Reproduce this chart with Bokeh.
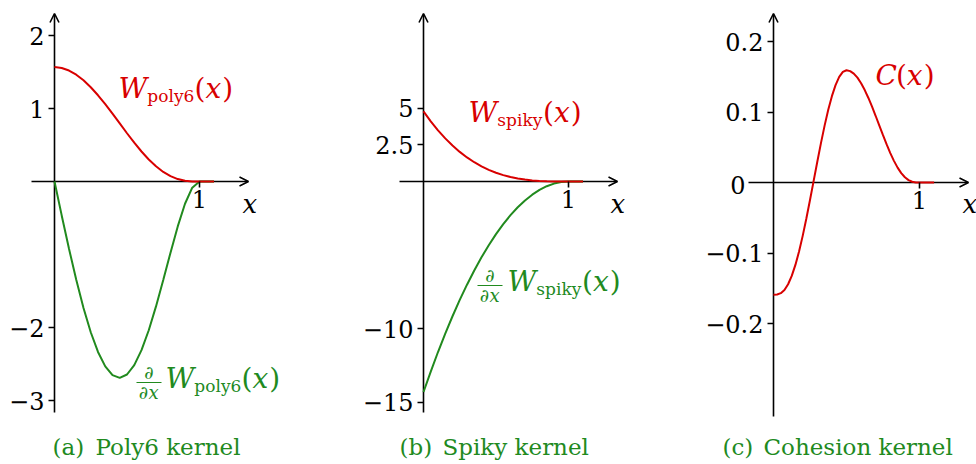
from bokeh.plotting import figure
from bokeh.layouts import row
from bokeh.models import Arrow, OpenHead, Label, Range1d, CustomJSTickFormatter
from bokeh.embed import file_html
from bokeh.resources import INLINE

# ---- data (distance in units of the smoothing length h) ----
x_h = [0.0, 0.05, 0.1, 0.15, 0.2, 0.25, 0.3, 0.35, 0.4, 0.45, 0.5, 0.55,
       0.6, 0.65, 0.7, 0.75, 0.8, 0.85, 0.9, 0.95, 1.0, 1.05, 1.1]

w_poly6 = [1.567, 1.555, 1.520, 1.463, 1.386, 1.291, 1.181, 1.059, 0.929, 0.795,
           0.661, 0.532, 0.411, 0.302, 0.208, 0.131, 0.073, 0.0335, 0.0107, 0.0015,
           0.0, 0.0, 0.0]
dw_poly6 = [0.0, -0.468, -0.921, -1.347, -1.733, -2.065, -2.335, -2.533, -2.653, -2.690,
            -2.644, -2.515, -2.310, -2.038, -1.711, -1.349, -0.975, -0.615, -0.305, -0.085,
            0.0, 0.0, 0.0]

w_spiky = [4.775, 4.094, 3.481, 2.932, 2.445, 2.014, 1.638, 1.311, 1.031, 0.794,
           0.597, 0.435, 0.306, 0.205, 0.129, 0.0746, 0.0382, 0.0161, 0.0048, 0.0006,
           0.0, 0.0, 0.0]
dw_spiky = [-14.32, -12.93, -11.60, -10.35, -9.167, -8.057, -7.019, -6.052, -5.157, -4.333,
            -3.581, -2.901, -2.292, -1.755, -1.289, -0.895, -0.573, -0.322, -0.143, -0.036,
            0.0, 0.0, 0.0]

x_coh = [0.0, 0.025, 0.05, 0.075, 0.1, 0.125, 0.15, 0.175, 0.2, 0.225, 0.25, 0.275,
         0.3, 0.325, 0.35, 0.375, 0.4, 0.425, 0.45, 0.475, 0.5, 0.525, 0.55, 0.575,
         0.6, 0.625, 0.65, 0.675, 0.7, 0.725, 0.75, 0.775, 0.8, 0.825, 0.85, 0.875,
         0.9, 0.925, 0.95, 0.975, 1.0, 1.05, 1.1]
c_coh = [-0.1592, -0.1589, -0.1570, -0.1524, -0.1443, -0.1325, -0.1169, -0.0979,
         -0.0757, -0.0511, -0.0249, 0.0023, 0.0295, 0.0559, 0.0807, 0.1031, 0.1225,
         0.1382, 0.1497, 0.1568, 0.1592, 0.1580, 0.1544, 0.1487, 0.1408, 0.1311,
         0.1199, 0.1075, 0.0943, 0.0807, 0.0671, 0.0540, 0.0417, 0.0307, 0.0211,
         0.0133, 0.0074, 0.0034, 0.0011, 0.0001, 0.0, 0.0, 0.0]

x_ticks = [1]
poly6_yticks = [-3, -2, 1, 2]
spiky_yticks = [-15, -10, 2.5, 5]
coh_yticks = [-0.2, -0.1, 0.1, 0.2]
coh_zero_label = "0"

captions = [("(a)", "Poly6 kernel"), ("(b)", "Spiky kernel"), ("(c)", "Cohesion kernel")]

RED = "#d80000"
GREEN = "#218a1e"
FONT = "DejaVu Serif"
TICK_SIZE = 24
H = 464
RISE = 0.36  # lift (in em) that puts a label's baseline on the requested pixel row

# approximate advance widths (em) used to lay out the math labels piece by piece
ROMAN = {"(": 0.39, ")": 0.39, "p": 0.642, "o": 0.602, "l": 0.32, "y": 0.58,
         "6": 0.636, "s": 0.513, "i": 0.32, "k": 0.63, "\u2202": 0.55}
ITALIC = {"W": 1.03, "x": 0.6, "C": 0.73}


def text_width(s, size, italic):
    table = ITALIC if italic else ROMAN
    return sum(table.get(ch, 0.6) for ch in s) * size


class Panel:
    """A figure whose data origin sits at pixel (ox, oy) with sx, sy px per unit."""

    def __init__(self, width, ox, oy, sx, sy, yticks):
        self.ox, self.oy, self.sx, self.sy = ox, oy, sx, sy
        p = figure(width=width, height=H, output_backend="svg", toolbar_location=None,
                   x_range=Range1d(-ox / sx, (width - ox) / sx),
                   y_range=Range1d((oy - H) / sy, oy / sy),
                   min_border=0, outline_line_color=None,
                   background_fill_color="white", border_fill_color="white")
        p.grid.visible = False
        p.xaxis.fixed_location = 0
        p.yaxis.fixed_location = 0
        p.xaxis.ticker = x_ticks
        p.yaxis.ticker = yticks
        fmt = "return (tick < 0 ? '\u2212' : '') + String(Math.abs(tick));"
        p.yaxis.formatter = CustomJSTickFormatter(code=fmt)
        for ax in (p.xaxis, p.yaxis):
            ax.axis_line_color = None
            ax.major_tick_in = 0
            ax.major_tick_out = 6
            ax.major_tick_line_width = 1.6
            ax.major_tick_line_color = "black"
            ax.minor_tick_line_color = None
            ax.major_label_text_font = FONT
            ax.major_label_text_font_size = f"{TICK_SIZE}px"
            ax.major_label_text_color = "black"
            ax.major_label_standoff = 4
        p.xaxis.major_label_standoff = 2
        self.p = p

    def dx(self, px):
        return (px - self.ox) / self.sx

    def dy(self, py):
        return (self.oy - py) / self.sy

    def axes(self, x0, x1, y0, y1):
        head = dict(size=9, line_width=1.6, line_color="black")
        self.p.add_layout(Arrow(end=OpenHead(**head), x_start=self.dx(x0), y_start=0,
                                x_end=self.dx(x1), y_end=0, line_width=1.6,
                                line_color="black", level="underlay"))
        self.p.add_layout(Arrow(end=OpenHead(**head), x_start=0, y_start=self.dy(y0),
                                x_end=0, y_end=self.dy(y1), line_width=1.6,
                                line_color="black", level="underlay"))

    def label(self, px, base, text, size, color="black", italic=False, align="left"):
        self.p.add_layout(Label(x=self.dx(px), y=self.dy(base - RISE * size), text=text,
                                text_font=FONT, text_font_size=f"{size}px",
                                text_font_style="italic" if italic else "normal",
                                text_color=color, text_align=align,
                                text_baseline="alphabetic"))

    def math(self, left, base, pieces, color):
        x = left
        for s, size, italic, drop in pieces:
            self.label(x, base + drop, s, size, color, italic)
            x += text_width(s, size, italic)

    def dfrac(self, left, width, bar, color, size=18):
        c = left + width / 2
        self.label(c, bar - 4, "\u2202", size, color, align="center")
        self.p.segment(x0=self.dx(left), y0=self.dy(bar), x1=self.dx(left + width),
                       y1=self.dy(bar), line_color=color, line_width=1.2)
        w = text_width("\u2202", size, False) + text_width("x", size, True)
        self.label(c - w / 2, bar + 16, "\u2202", size, color)
        self.label(c - w / 2 + text_width("\u2202", size, False), bar + 16, "x", size,
                   color, italic=True)


def kernel_name(sub):
    return [("W", 28, True, 0), (sub, 17, False, 4), ("(", 28, False, 0),
            ("x", 28, True, 0), (")", 28, False, 0)]


# (a) Poly6 kernel
a = Panel(340, 54, 181, 145, 73, poly6_yticks)
a.axes(31, 248, 412, 13)
a.p.line(x_h, dw_poly6, line_color=GREEN, line_width=2)
a.p.line(x_h, w_poly6, line_color=RED, line_width=2)
a.math(118, 98, kernel_name("poly6"), RED)
a.dfrac(136, 25, 382, GREEN)
a.math(165, 388, kernel_name("poly6"), GREEN)
a.label(242, 213, "x", 26, italic=True)
a.label(52, 455, captions[0][0], 23, GREEN)
a.label(95, 455, captions[0][1], 23, GREEN)

# (b) Spiky kernel
b = Panel(340, 83, 181, 145, 14.7, spiky_yticks)
b.axes(59, 277, 412, 13)
b.p.line(x_h, dw_spiky, line_color=GREEN, line_width=2)
b.p.line(x_h, w_spiky, line_color=RED, line_width=2)
b.math(128, 122, kernel_name("spiky"), RED)
b.dfrac(137, 25, 285, GREEN)
b.math(167, 291, kernel_name("spiky"), GREEN)
b.label(270, 213, "x", 26, italic=True)
b.label(59, 455, captions[1][0], 23, GREEN)
b.label(102, 455, captions[1][1], 23, GREEN)

# (c) Cohesion kernel
c = Panel(296, 93, 182, 146, 705, coh_yticks)
c.axes(68, 288, 416, 13)
c.p.line(x_coh, c_coh, line_color=RED, line_width=2)
c.math(195, 85, [("C", 28, True, 0), ("(", 28, False, 0), ("x", 28, True, 0),
                 (")", 28, False, 0)], RED)
c.label(65, 193, coh_zero_label, TICK_SIZE, align="right")
c.label(282, 213, "x", 26, italic=True)
c.label(42, 455, captions[2][0], 23, GREEN)
c.label(83, 455, captions[2][1], 23, GREEN)

layout = row(a.p, b.p, c.p, spacing=0)
open("out.html", "w").write(file_html(layout, INLINE))
